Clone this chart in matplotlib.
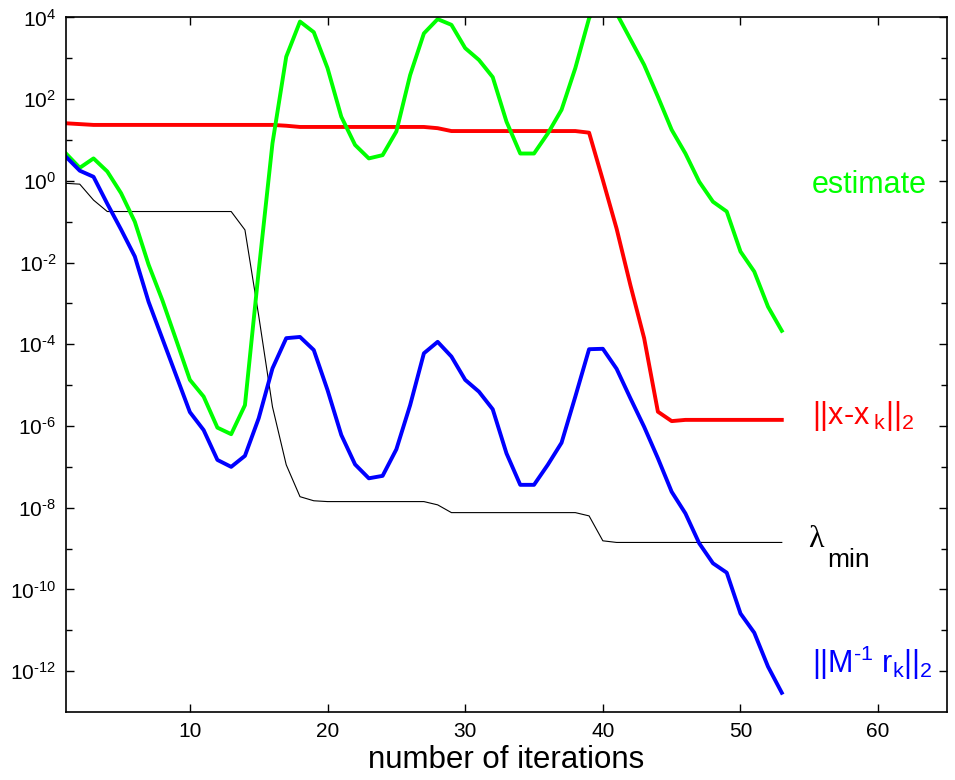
import numpy as np
import matplotlib
matplotlib.use('Agg')
import matplotlib.pyplot as plt
from matplotlib.ticker import FixedLocator, FuncFormatter, NullFormatter

plt.rcParams['font.family'] = ['Liberation Sans', 'DejaVu Sans']
plt.rcParams['mathtext.fontset'] = 'custom'
plt.rcParams['mathtext.rm'] = 'Liberation Sans'
plt.rcParams['mathtext.it'] = 'Liberation Sans'
plt.rcParams['mathtext.default'] = 'regular'
plt.rcParams['axes.unicode_minus'] = False

iterations = np.arange(1, 54)

# log10 values, one per iteration (1..53)
log_estimate = [0.67, 0.32, 0.55, 0.23, -0.30, -1.00, -2.05, -2.92, -3.89, -4.87,
                -5.28, -6.04, -6.20, -5.49, -2.20, 0.92, 3.04, 3.90, 3.64, 2.76,
                1.57, 0.88, 0.55, 0.63, 1.21, 2.59, 3.61, 3.96, 3.82, 3.25,
                2.96, 2.54, 1.45, 0.67, 0.67, 1.16, 1.74, 2.76, 3.98, 4.60,
                4.10, 3.47, 2.84, 2.06, 1.25, 0.67, -0.02, -0.51, -0.75, -1.73,
                -2.22, -3.08, -3.67]
log_err = [1.41, 1.39, 1.37, 1.37, 1.37, 1.37, 1.37, 1.37, 1.37, 1.37,
           1.37, 1.37, 1.37, 1.37, 1.37, 1.37, 1.35, 1.32, 1.32, 1.32,
           1.32, 1.32, 1.32, 1.32, 1.32, 1.32, 1.32, 1.29, 1.22, 1.22,
           1.22, 1.22, 1.22, 1.22, 1.22, 1.22, 1.22, 1.22, 1.18, 0.02,
           -1.17, -2.55, -3.85, -5.65, -5.88, -5.85, -5.85, -5.85, -5.85, -5.85,
           -5.85, -5.85, -5.85]
log_lmin = [-0.06, -0.08, -0.47, -0.75, -0.75, -0.75, -0.75, -0.75, -0.75, -0.75,
            -0.75, -0.75, -0.75, -1.20, -3.30, -5.53, -6.95, -7.73, -7.83, -7.85,
            -7.85, -7.85, -7.85, -7.85, -7.85, -7.85, -7.85, -7.93, -8.12, -8.12,
            -8.12, -8.12, -8.12, -8.12, -8.12, -8.12, -8.12, -8.12, -8.20, -8.81,
            -8.85, -8.85, -8.85, -8.85, -8.85, -8.85, -8.85, -8.85, -8.85, -8.85,
            -8.85, -8.85, -8.85]
log_res = [0.59, 0.25, 0.10, -0.56, -1.19, -1.85, -2.96, -3.86, -4.76, -5.66,
           -6.10, -6.83, -7.00, -6.73, -5.81, -4.59, -3.85, -3.82, -4.14, -5.12,
           -6.22, -6.94, -7.28, -7.22, -6.57, -5.49, -4.22, -3.94, -4.30, -4.87,
           -5.16, -5.59, -6.67, -7.44, -7.44, -6.95, -6.41, -5.28, -4.12, -4.11,
           -4.60, -5.32, -6.02, -6.79, -7.61, -8.14, -8.87, -9.36, -9.59, -10.59,
           -11.06, -11.89, -12.53]

xticks = [10, 20, 30, 40, 50, 60]


def decade_label(v, pos):
    # 10^n with a plain hyphen like the original
    n = int(round(np.log10(v)))
    if n < 0:
        return r'$10^{\text{-}%d}$' % (-n)
    return r'$10^{%d}$' % n


fig = plt.figure(figsize=(9.55, 7.8), dpi=100)
ax = fig.add_axes([0.0691, 0.0872, 0.9225, 0.8904])

ax.plot(iterations, 10.0 ** np.array(log_lmin), color='black', lw=0.8)
ax.plot(iterations, 10.0 ** np.array(log_err), color='#ff0000', lw=2.8)
ax.plot(iterations, 10.0 ** np.array(log_estimate), color='#00ff00', lw=2.8)
ax.plot(iterations, 10.0 ** np.array(log_res), color='#0000ff', lw=2.8)

ax.set_yscale('log')
ax.set_xlim(1, 65)
ax.set_ylim(1e-13, 1e4)
ax.set_xticks(xticks)
ax.yaxis.set_major_locator(FixedLocator(10.0 ** np.arange(-12, 5, 2)))
ax.yaxis.set_minor_locator(FixedLocator(10.0 ** np.arange(-11, 4, 2)))
ax.yaxis.set_major_formatter(FuncFormatter(decade_label))
ax.yaxis.set_minor_formatter(NullFormatter())

ax.tick_params(which='both', direction='in', top=True, right=True, labelsize=15)
ax.tick_params(which='major', length=6, width=1.0, pad=7)
ax.tick_params(which='minor', length=4, width=1.0)
for s in ax.spines.values():
    s.set_linewidth(1.2)

ax.set_xlabel('number of iterations', fontsize=22.5, labelpad=3)

# curve labels on the right
ax.text(55.2, 10 ** -0.30, 'estimate', color='#00ff00', fontsize=22,
        ha='left', va='baseline')
ax.text(55.2, 10 ** -5.96, r'$||x\text{-}x_{\;k}||_2$', color='#ff0000', fontsize=22,
        ha='left', va='baseline')
ax.text(54.9, 10 ** -8.95, '\u03bb', color='black', fontsize=23,
        family='Liberation Serif', ha='left', va='baseline')
ax.text(56.3, 10 ** -9.44, 'min', color='black', fontsize=19,
        ha='left', va='baseline')
ax.text(55.2, 10 ** -12.05, r'$||M^{\text{-}1}\ r_k||_2$', color='#0000ff', fontsize=22,
        ha='left', va='baseline')

plt.savefig('out.png', dpi=100)
